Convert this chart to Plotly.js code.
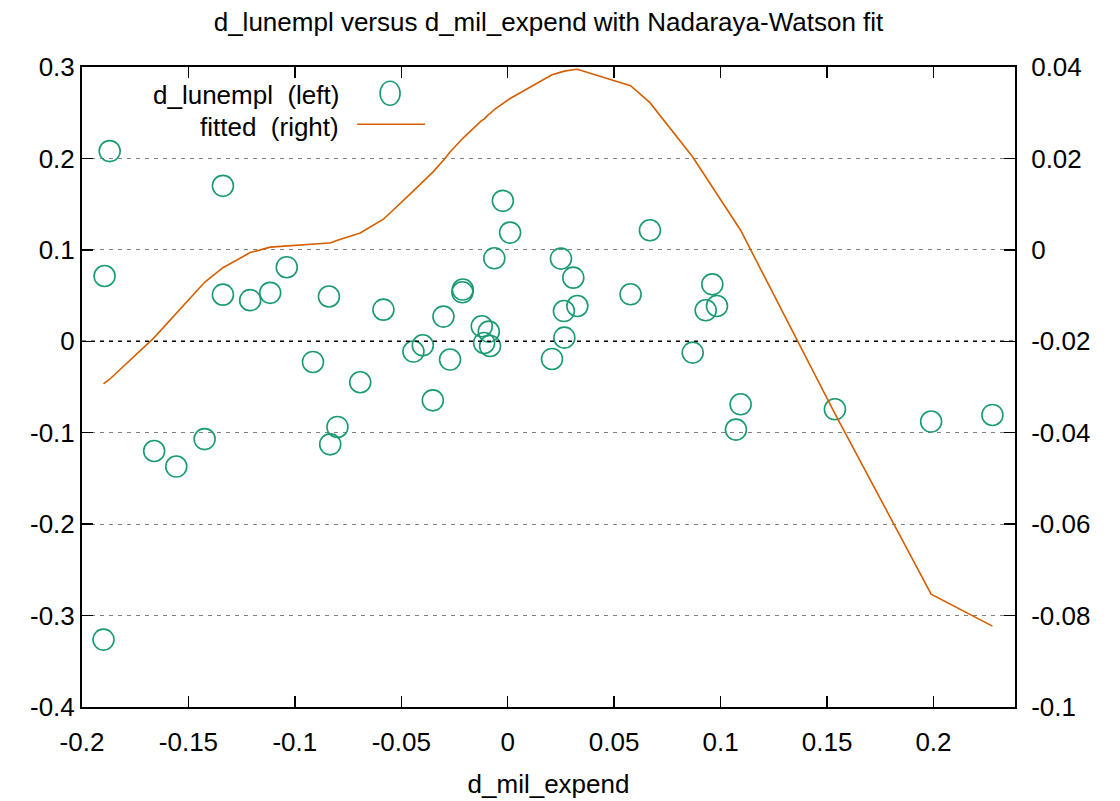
<!DOCTYPE html>
<html>
<head>
<meta charset="utf-8">
<script src="https://cdn.plot.ly/plotly-3.0.1.min.js"></script>
<style>html,body{margin:0;padding:0;background:#fff;}#chart{width:1120px;height:801px;}</style>
</head>
<body>
<div id="chart"></div>
<script>
// d_mil_expend (x), d_lunempl (left axis), Nadaraya-Watson fitted value (right axis)
const dMilExpend = [-0.1899, -0.1894, -0.1870, -0.1661, -0.1557, -0.1424, -0.1338, -0.1338, -0.1210, -0.1116,
  -0.1038, -0.0915, -0.0840, -0.0834, -0.0800, -0.0693, -0.0584, -0.0443, -0.0399, -0.0352,
  -0.0302, -0.0271, -0.0213, -0.0211, -0.0122, -0.0111, -0.0089, -0.0083, -0.0063, -0.0023,
  0.0011, 0.0208, 0.0250, 0.0264, 0.0266, 0.0308, 0.0327, 0.0577, 0.0668, 0.0869,
  0.0930, 0.0961, 0.0983, 0.1072, 0.1094, 0.1537, 0.1989, 0.2277];
const dLunempl = [-0.3263, 0.0714, 0.2080, -0.1200, -0.1370, -0.1070, 0.1700, 0.0510, 0.0450, 0.0530,
  0.0810, -0.0226, 0.0490, -0.1127, -0.0937, -0.0448, 0.0346, -0.0112, -0.0044, -0.0646,
  0.0270, -0.0200, 0.0536, 0.0566, 0.0164, -0.0018, 0.0106, -0.0051, 0.0908, 0.1536,
  0.1189, -0.0193, 0.0904, 0.0331, 0.0040, 0.0696, 0.0386, 0.0514, 0.1214, -0.0124,
  0.0339, 0.0623, 0.0386, -0.0966, -0.0689, -0.0744, -0.0878, -0.0806];
const fitted = [-0.0293, -0.0291, -0.0283, -0.0192, -0.0139, -0.0071, -0.0039, -0.0039, -0.0006, 0.0006,
  0.0009, 0.0013, 0.0015, 0.0015, 0.0021, 0.0037, 0.0067, 0.0129, 0.0149, 0.0170,
  0.0196, 0.0214, 0.0243, 0.0244, 0.0283, 0.0286, 0.0297, 0.0298, 0.0307, 0.0320,
  0.0331, 0.0383, 0.0388, 0.0391, 0.0391, 0.0394, 0.0395, 0.0359, 0.0322, 0.0203,
  0.0159, 0.0138, 0.0122, 0.0058, 0.0043, -0.0358, -0.0753, -0.0823];

const xTickVals = [-0.2, -0.15, -0.1, -0.05, 0, 0.05, 0.1, 0.15, 0.2];
const xTickText = ["-0.2", "-0.15", "-0.1", "-0.05", "0", "0.05", "0.1", "0.15", "0.2"];
const yTickVals = [-0.4, -0.3, -0.2, -0.1, 0, 0.1, 0.2, 0.3];
const yTickText = ["-0.4", "-0.3", "-0.2", "-0.1", "0", "0.1", "0.2", "0.3"];
const y2TickVals = [-0.1, -0.08, -0.06, -0.04, -0.02, 0, 0.02, 0.04];
const y2TickText = ["-0.1", "-0.08", "-0.06", "-0.04", "-0.02", "0", "0.02", "0.04"];

const titleText = "d_lunempl versus d_mil_expend with Nadaraya-Watson fit";
const xTitle = "d_mil_expend";
const legendLabels = ["d_lunempl  (left)", "fitted  (right)"];

const GREEN = "#1a9a74";
const ORANGE = "#d55e00";
const FONT = "Liberation Sans, Arial, sans-serif";
const FS = 26;

const traces = [
  {
    type: "scatter", mode: "markers", x: dMilExpend, y: dLunempl, yaxis: "y",
    name: legendLabels[0],
    marker: {symbol: "circle-open", size: 21, color: GREEN, line: {color: GREEN, width: 1.6}},
    hoverinfo: "x+y"
  },
  {
    type: "scatter", mode: "lines", x: dMilExpend, y: fitted, yaxis: "y2",
    name: legendLabels[1],
    line: {color: ORANGE, width: 1.6},
    hoverinfo: "x+y"
  }
];

const axisCommon = {
  ticks: "inside", ticklen: 11, tickwidth: 1.5, tickcolor: "#000",
  showline: true, linecolor: "#000", linewidth: 2,
  zeroline: false, tickfont: {family: FONT, size: FS, color: "#000"}
};

const layout = {
  width: 1120, height: 801,
  margin: {l: 82, r: 105, t: 67, b: 94},
  paper_bgcolor: "#fff", plot_bgcolor: "#fff",
  font: {family: FONT, size: FS, color: "#000"},
  showlegend: false,
  title: {text: titleText, font: {family: FONT, size: FS, color: "#000"},
          xref: "paper", x: 0.5, xanchor: "center", yref: "container", y: 0.973, yanchor: "middle"},
  xaxis: Object.assign({}, axisCommon, {
    range: [-0.2, 0.2383], tickmode: "array", tickvals: xTickVals, ticktext: xTickText,
    mirror: "ticks", showgrid: false, ticklabelstandoff: 11,
    title: {text: xTitle, font: {family: FONT, size: FS, color: "#000"}, standoff: 19}
  }),
  yaxis: Object.assign({}, axisCommon, {
    range: [-0.4, 0.3], tickmode: "array", tickvals: yTickVals, ticktext: yTickText,
    mirror: false, showgrid: true, gridcolor: "#7f7f7f", gridwidth: 1, griddash: "4px,5px"
  }),
  yaxis2: Object.assign({}, axisCommon, {
    range: [-0.1, 0.04], tickmode: "array", tickvals: y2TickVals, ticktext: y2TickText,
    overlaying: "y", side: "right", showgrid: false, ticklabelstandoff: 9
  }),
  shapes: [
    {type: "line", xref: "paper", x0: 0, x1: 1, yref: "y", y0: 0, y1: 0,
     line: {color: "#000", width: 1.5, dash: "4px,5px"}, layer: "above"},
    // legend key: open circle
    {type: "circle", xref: "paper", yref: "paper", xsizemode: "pixel", ysizemode: "pixel",
     xanchor: 0.3302, yanchor: 0.9589, x0: -10, x1: 10, y0: -12, y1: 12,
     line: {color: GREEN, width: 1.6}},
    // legend key: line
    {type: "line", xref: "paper", yref: "paper", x0: 0.2949, x1: 0.3677, y0: 0.9105, y1: 0.9105,
     line: {color: ORANGE, width: 1.6}}
  ],
  annotations: [
    {text: legendLabels[0], xref: "paper", yref: "paper", x: 0.2777, y: 0.9558,
     xanchor: "right", yanchor: "middle", showarrow: false, font: {family: FONT, size: FS, color: "#000"}},
    {text: legendLabels[1], xref: "paper", yref: "paper", x: 0.2777, y: 0.9058,
     xanchor: "right", yanchor: "middle", showarrow: false, font: {family: FONT, size: FS, color: "#000"}}
  ]
};

Plotly.newPlot("chart", traces, layout, {displayModeBar: false, staticPlot: true});
</script>
</body>
</html>
